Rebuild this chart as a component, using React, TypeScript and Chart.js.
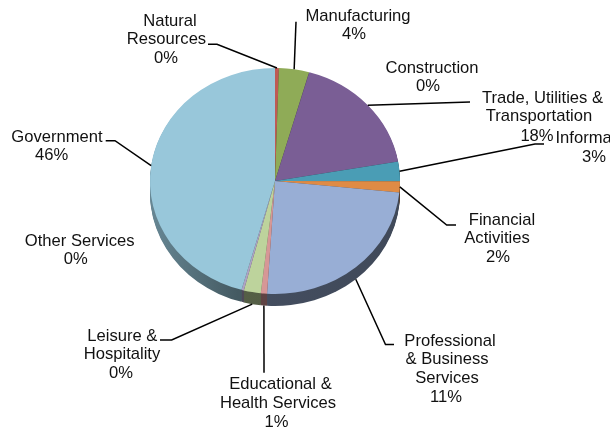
import React, { useEffect, useRef } from "react";
import { Chart, registerables } from "chart.js";

Chart.register(...registerables);

const categories = [
  "Natural Resources",
  "Manufacturing",
  "Construction",
  "Trade, Utilities & Transportation",
  "Information",
  "Financial Activities",
  "Professional & Business Services",
  "Educational & Health Services",
  "Leisure & Hospitality",
  "Other Services",
  "Government",
];
const sliceValues = [0.5, 3.9, 0.03, 17.8, 2.8, 1.6, 24.4, 0.8, 2.2, 0.3, 45.7];
const percentLabels = ["0%", "4%", "0%", "18%", "3%", "2%", "11%", "1%", "0%", "0%", "46%"];
const sliceColors = [
  "#bf5a55", "#8fab57", "#7f6aa0", "#7a5e95", "#4a9db5", "#df8b45",
  "#98aed5", "#d69796", "#bdd39c", "#aea3c4", "#98c7da",
];
const labelLines = [
  ["Natural", "Resources"],
  ["Manufacturing"],
  ["Construction"],
  ["Trade, Utilities &", "Transportation"],
  ["Information"],
  ["Financial", "Activities"],
  ["Professional", "& Business", "Services"],
  ["Educational &", "Health Services"],
  ["Leisure &", "Hospitality"],
  ["Other Services"],
  ["Government"],
];

// Layout of the text lines (centre x, centre y), the last one being the percentage.
const labelLayout: number[][][] = [
  [[170, 21], [166.5, 39], [166, 58]],
  [[358, 16], [354, 34]],
  [[432, 68], [428, 86]],
  [[542.5, 98], [539, 116], [537, 136]],
  [[597, 138], [594, 157]],
  [[502, 220], [497, 238], [498, 257]],
  [[450, 341], [447, 359], [447, 378], [446, 397]],
  [[280.5, 384], [278, 402.7], [276.5, 421.7]],
  [[122.3, 335.7], [122, 354], [121, 372.7]],
  [[79.7, 240.7], [75.8, 259]],
  [[57, 136.7], [51.7, 155]],
];
// Leader lines run from the slice's rim to these points; "front" slices start on the lower rim.
const leaderPaths: ({ front: boolean; path: number[][] } | null)[] = [
  { front: false, path: [[217, 44.3], [208, 44.3]] },
  { front: false, path: [[296, 21.7]] },
  null,
  { front: false, path: [[470, 102]] },
  { front: false, path: [[535, 144], [544, 144]] },
  { front: false, path: [[446.7, 225], [456, 225]] },
  { front: true, path: [[385.5, 344.5], [394, 344.5]] },
  { front: true, path: [[264, 372.7]] },
  { front: true, path: [[171.7, 340], [160, 340]] },
  null,
  { front: false, path: [[115, 140.7], [105.7, 140.7]] },
];

const CX = 275;
const CY = 181;
const RADIUS = 125;
const SQUASH = 113 / 125;
const DEPTH = 12;

function applySquash(ctx: CanvasRenderingContext2D) {
  ctx.translate(CX, CY);
  ctx.scale(1, SQUASH);
  ctx.translate(-CX, -CY);
}

function shade(hex: string, f: number) {
  const n = parseInt(hex.slice(1), 16);
  const r = Math.round(((n >> 16) & 255) * f);
  const g = Math.round(((n >> 8) & 255) * f);
  const b = Math.round((n & 255) * f);
  return `rgb(${r},${g},${b})`;
}

const piePlugin = {
  id: "pie3d",
  beforeDatasetsDraw(chart: any) {
    const ctx: CanvasRenderingContext2D = chart.ctx;
    const arcs = chart.getDatasetMeta(0).data;
    for (let d = DEPTH; d >= 1; d -= 1) {
      arcs.forEach((arc: any, i: number) => {
        const p = arc.getProps(["startAngle", "endAngle", "outerRadius", "x", "y"], true);
        const grad = ctx.createLinearGradient(CX - RADIUS, 0, CX + RADIUS, 0);
        grad.addColorStop(0, shade(sliceColors[i], 0.68));
        grad.addColorStop(0.35, shade(sliceColors[i], 0.45));
        grad.addColorStop(1, shade(sliceColors[i], 0.42));
        ctx.save();
        ctx.translate(0, d);
        applySquash(ctx);
        ctx.fillStyle = grad;
        ctx.beginPath();
        ctx.moveTo(p.x, p.y);
        ctx.arc(p.x, p.y, p.outerRadius, p.startAngle, p.endAngle);
        ctx.closePath();
        ctx.fill();
        ctx.restore();
      });
    }
    ctx.save();
    applySquash(ctx);
  },
  afterDatasetsDraw(chart: any) {
    const ctx: CanvasRenderingContext2D = chart.ctx;
    ctx.restore();
    const arcs = chart.getDatasetMeta(0).data;
    ctx.save();
    ctx.strokeStyle = "#000";
    ctx.lineWidth = 1.5;
    leaderPaths.forEach((leader, i) => {
      if (!leader) return;
      const p = arcs[i].getProps(["startAngle", "endAngle", "outerRadius", "x", "y"], true);
      const a = (p.startAngle + p.endAngle) / 2;
      const x0 = p.x + p.outerRadius * Math.cos(a);
      const y0 = p.y + p.outerRadius * SQUASH * Math.sin(a) + (leader.front ? DEPTH : 0);
      ctx.beginPath();
      ctx.moveTo(x0, y0);
      leader.path.forEach(([x, y]) => ctx.lineTo(x, y));
      ctx.stroke();
    });
    ctx.fillStyle = "#111";
    ctx.font = '16.6px "Liberation Sans", Arial, sans-serif';
    ctx.textAlign = "center";
    ctx.textBaseline = "middle";
    labelLines.forEach((lines, i) => {
      const all = [...lines, percentLabels[i]];
      all.forEach((t, j) => {
        const [x, y] = labelLayout[i][j];
        ctx.fillText(t, x, y + 0.8);
      });
    });
    ctx.restore();
  },
};

export default function App() {
  const ref = useRef<HTMLCanvasElement>(null);
  useEffect(() => {
    document.body.style.margin = "0";
    const chart = new Chart(ref.current as HTMLCanvasElement, {
      type: "pie",
      data: {
        labels: categories,
        datasets: [
          {
            data: sliceValues,
            backgroundColor: sliceColors,
            borderWidth: 0,
            radius: RADIUS,
          } as any,
        ],
      },
      options: {
        animation: false,
        responsive: false,
        layout: { padding: { left: 0, top: 0, right: 610 - 2 * CX, bottom: 432 - 2 * CY } },
        plugins: { legend: { display: false }, tooltip: { enabled: false } },
      },
      plugins: [piePlugin],
    } as any);
    return () => chart.destroy();
  }, []);
  return <canvas ref={ref} width={610} height={432} style={{ display: "block", background: "#fff", filter: "blur(0.4px)" }} />;
}
